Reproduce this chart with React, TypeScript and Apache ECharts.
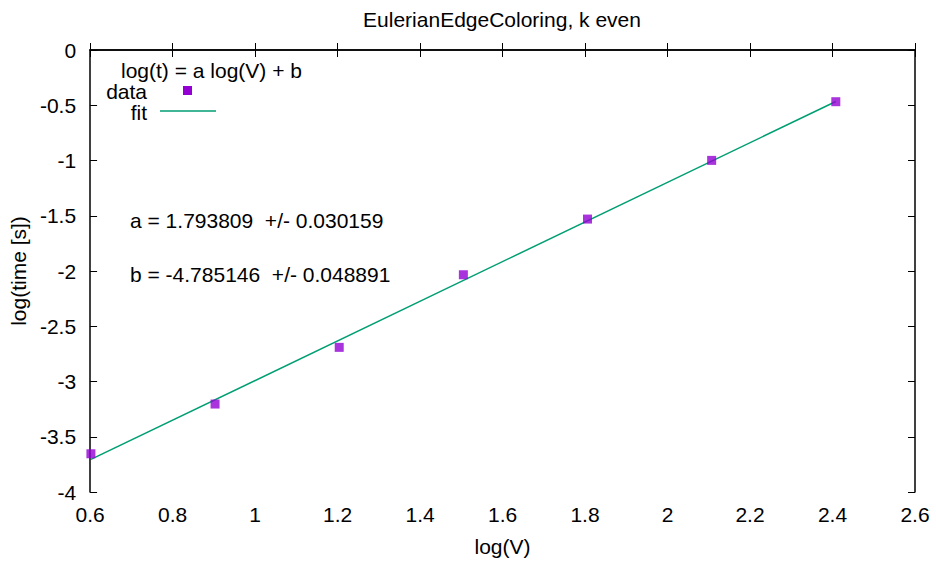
import React, { useEffect, useRef } from "react";
import * as echarts from "echarts";

const titleText = "EulerianEdgeColoring, k even";
const xName = "log(V)";
const yName = "log(time [s])";
const logV = [0.602, 0.903, 1.204, 1.505, 1.806, 2.107, 2.408];
const logT = [-3.654, -3.204, -2.691, -2.034, -1.53, -0.999, -0.468];
const fitA = 1.793809;
const fitB = -4.785146;
const fitRange = [0.602, 2.408];
const annotA = "a = 1.793809  +/- 0.030159";
const annotB = "b = -4.785146  +/- 0.048891";
const legendTitle = "log(t) = a log(V) + b";

const FONT = "'Liberation Sans', Helvetica, Arial, sans-serif";
const FS = 21;

export default function App() {
  const ref = useRef<HTMLDivElement>(null);
  useEffect(() => {
    document.body.style.margin = "0";
    if (!ref.current) return;
    const chart = echarts.init(ref.current, null, { renderer: "svg" });
    const fmt = (v: number) => String(Math.round(v * 10) / 10);
    const axisLine = { show: true, lineStyle: { color: "#000", width: 1.5 } };
    const tick = { show: true, inside: true, length: 7, lineStyle: { color: "#000", width: 1 } };
    const txt = { fontFamily: FONT, fontSize: FS, fill: "#000" };
    chart.setOption({
      animation: false,
      backgroundColor: "#fff",
      textStyle: { fontFamily: FONT },
      grid: { left: 89, right: 21, top: 50, bottom: 68, containLabel: false },
      xAxis: [
        {
          type: "value",
          min: 0.6,
          max: 2.6,
          interval: 0.2,
          name: xName,
          nameLocation: "middle",
          nameGap: 44,
          nameTextStyle: { fontFamily: FONT, fontSize: FS, color: "#000" },
          axisLine,
          axisTick: tick,
          splitLine: { show: false },
          axisLabel: { fontFamily: FONT, fontSize: FS, color: "#000", margin: 12, formatter: fmt },
        },
        {
          type: "value",
          position: "top",
          min: 0.6,
          max: 2.6,
          interval: 0.2,
          axisLine,
          axisTick: tick,
          splitLine: { show: false },
          axisLabel: { show: false },
        },
      ],
      yAxis: [
        {
          type: "value",
          min: -4,
          max: 0,
          interval: 0.5,
          name: yName,
          nameLocation: "middle",
          nameGap: 58,
          nameTextStyle: { fontFamily: FONT, fontSize: FS, color: "#000" },
          axisLine,
          axisTick: tick,
          splitLine: { show: false },
          axisLabel: { fontFamily: FONT, fontSize: FS, color: "#000", margin: 14, formatter: fmt },
        },
        {
          type: "value",
          position: "right",
          min: -4,
          max: 0,
          interval: 0.5,
          axisLine,
          axisTick: tick,
          splitLine: { show: false },
          axisLabel: { show: false },
        },
      ],
      series: [
        {
          name: "fit",
          type: "line",
          data: fitRange.map((x) => [x, fitA * x + fitB]),
          showSymbol: false,
          lineStyle: { color: "#009E73", width: 1.5 },
          z: 2,
        },
        {
          name: "data",
          type: "scatter",
          symbol: "rect",
          symbolSize: 9,
          data: logV.map((x, i) => [x, logT[i]]),
          itemStyle: { color: "#9400D3" },
          z: 3,
        },
      ],
      graphic: [
        {
          type: "text",
          x: 502,
          y: 19,
          style: { ...txt, text: titleText, align: "center", verticalAlign: "middle" },
        },
        {
          type: "text",
          x: 121,
          y: 70,
          style: { ...txt, text: legendTitle, verticalAlign: "middle", lineHeight: 20 },
        },
        {
          type: "text",
          x: 147,
          y: 91,
          style: { ...txt, text: "data", align: "right", verticalAlign: "middle", lineHeight: 19 },
        },
        {
          type: "rect",
          shape: { x: 183, y: 86, width: 9, height: 9 },
          style: { fill: "#9400D3" },
        },
        {
          type: "text",
          x: 147,
          y: 112,
          style: { ...txt, text: "fit", align: "right", verticalAlign: "middle", lineHeight: 19 },
        },
        {
          type: "line",
          shape: { x1: 160, y1: 111, x2: 216, y2: 111 },
          style: { stroke: "#009E73", lineWidth: 1.5 },
        },
        {
          type: "text",
          x: 130,
          y: 220,
          style: { ...txt, text: annotA, verticalAlign: "middle" },
        },
        {
          type: "text",
          x: 130,
          y: 274,
          style: { ...txt, text: annotB, verticalAlign: "middle" },
        },
      ],
    });
    return () => chart.dispose();
  }, []);
  return <div ref={ref} style={{ width: 936, height: 562 }} />;
}
